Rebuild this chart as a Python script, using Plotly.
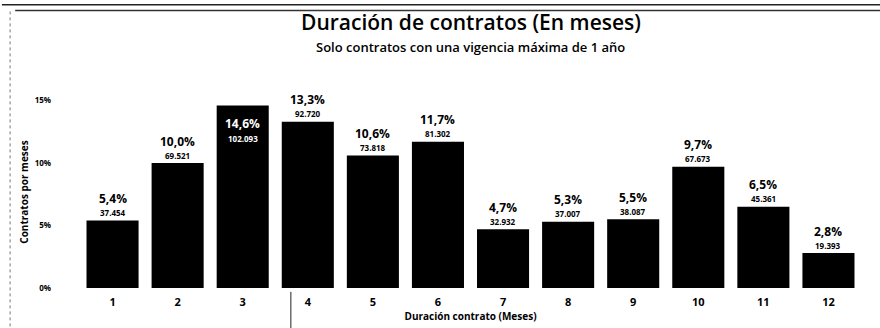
import plotly.graph_objects as go

# Contract durations (months), share of contracts and absolute counts
meses = [1, 2, 3, 4, 5, 6, 7, 8, 9, 10, 11, 12]
porcentaje = [5.4, 10.0, 14.6, 13.3, 10.6, 11.7, 4.7, 5.3, 5.5, 9.7, 6.5, 2.8]
contratos = ["37.454", "69.521", "102.093", "92.720", "73.818", "81.302",
             "32.932", "37.007", "38.087", "67.673", "45.361", "19.393"]
y_ticks = [0, 5, 10, 15]
y_tick_text = ["0%", "5%", "10%", "15%"]

FONT = "Open Sans"
Y_MAX = 15.36

fig = go.Figure(go.Bar(
    x=meses, y=porcentaje,
    marker=dict(color="#000000", line=dict(width=0)),
    width=0.8,
    hoverinfo="skip",
))

# Value labels: above each bar, or inside (white) when the bar nearly fills the plot
for m, p, c in zip(meses, porcentaje, contratos):
    inside = p > 14
    col = "#ffffff" if inside else "#000000"
    pct_shift = -18 if inside else 22
    cnt_shift = -33 if inside else 8
    fig.add_annotation(x=m, y=p, xref="x", yref="y", text=f"{p:.1f}%".replace(".", ","),
                       showarrow=False, yshift=pct_shift,
                       font=dict(family=FONT, size=12, color=col, weight="bold"))
    fig.add_annotation(x=m, y=p, xref="x", yref="y", text=c,
                       showarrow=False, yshift=cnt_shift,
                       font=dict(family=FONT, size=8, color=col, weight="bold"))

# Title and subtitle
fig.add_annotation(x=0.5, xref="paper", y=1, yref="paper", yanchor="bottom",
                   text="Duración de contratos (En meses)", showarrow=False, yshift=58,
                   font=dict(family=FONT, size=21, color="#000000", weight=600))
fig.add_annotation(x=0.5, xref="paper", y=1, yref="paper", yanchor="bottom",
                   text="Solo contratos con una vigencia máxima de 1 año", showarrow=False, yshift=38,
                   font=dict(family=FONT, size=13, color="#000000", weight=600))

# Frame lines around the figure
fig.add_shape(type="line", xref="paper", yref="paper", x0=-0.1, x1=1.03, y0=1.475, y1=1.475,
              line=dict(color="#222222", width=1.5))
fig.add_shape(type="line", xref="paper", yref="paper", x0=-0.083, x1=1.03, y0=1.445, y1=1.445,
              line=dict(color="#333333", width=1.5))
fig.add_shape(type="line", xref="paper", yref="paper", x0=-0.0895, x1=-0.0895, y0=-0.2, y1=1.44,
              line=dict(color="#777777", width=1, dash="dot"))
# Thin separator stroke below the axis between months 3 and 4
fig.add_shape(type="line", xref="paper", yref="paper", x0=0.270, x1=0.270, y0=-0.02, y1=-0.21,
              line=dict(color="#222222", width=1))

fig.update_layout(
    width=880, height=328,
    margin=dict(l=80, r=19, t=96, b=40),
    paper_bgcolor="#ffffff", plot_bgcolor="#ffffff",
    bargap=0.2,
    showlegend=False,
    xaxis=dict(
        range=[0.5, 12.5], tickmode="array", tickvals=meses, ticktext=[str(m) for m in meses],
        showgrid=False, zeroline=False, showline=False, ticks="",
        ticklabelstandoff=6,
        tickfont=dict(family=FONT, size=11, color="#000000", weight="bold"),
        title=dict(text="Duración contrato (Meses)", standoff=0,
                   font=dict(family=FONT, size=10, color="#000000", weight="bold")),
    ),
    yaxis=dict(
        range=[0, Y_MAX], tickmode="array", tickvals=y_ticks, ticktext=y_tick_text,
        showgrid=False, zeroline=False, showline=False, ticks="",
        ticklabelstandoff=28,
        tickfont=dict(family=FONT, size=8, color="#000000", weight="bold"),
        title=dict(text="Contratos por meses", standoff=4,
                   font=dict(family=FONT, size=10, color="#000000", weight="bold")),
    ),
)

fig.write_html("out.html")
